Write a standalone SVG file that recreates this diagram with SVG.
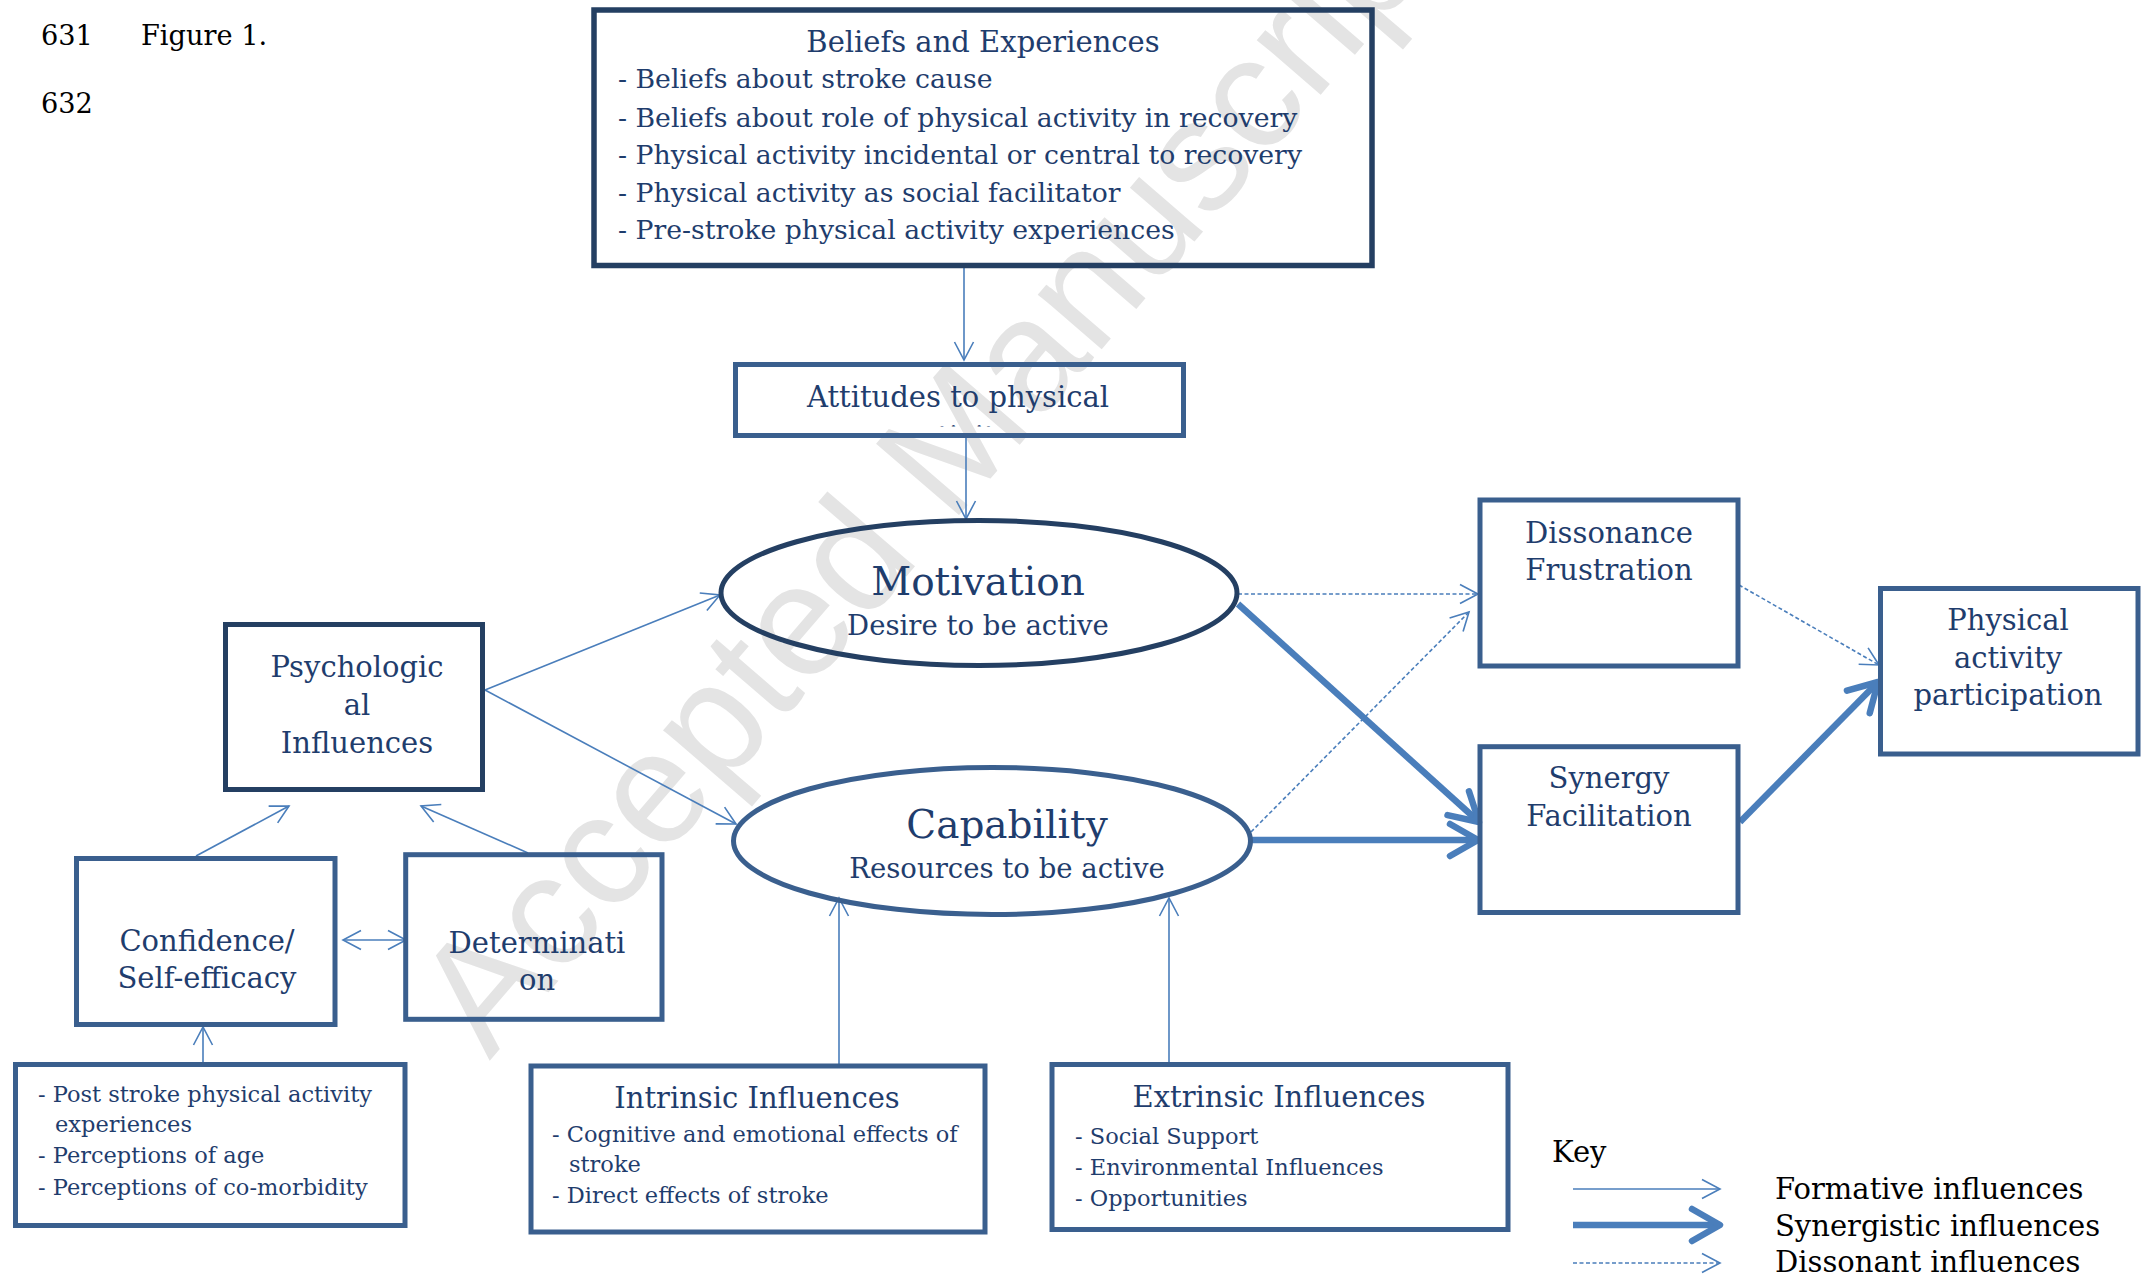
<svg xmlns="http://www.w3.org/2000/svg" width="2145" height="1279" viewBox="0 0 2145 1279">
<style>
  .bg { fill: #ffffff; }
  .wm { font-family: "Liberation Sans", Arial, sans-serif; font-size: 159px; fill: #e4e4e4; }
  .box { fill: none; stroke: #3a5f8e; stroke-width: 5; }
  .dark { stroke: #243f62; }
  .t { font-family: "DejaVu Serif", "Liberation Serif", serif; fill: #1f3d6d; }
  .h { font-size: 29px; text-anchor: middle; }
  .big { font-size: 39px; text-anchor: middle; }
  .sub { font-size: 27.5px; text-anchor: middle; }
  .bl { font-size: 26.7px; }
  .li { font-size: 22.5px; }
  .k { font-family: "DejaVu Serif", "Liberation Serif", serif; fill: #000000; font-size: 29px; }
  .thin { fill: none; stroke: #4a7ebb; stroke-width: 1.6; }
  .dash { fill: none; stroke: #4a7ebb; stroke-width: 1.6; stroke-dasharray: 4 2.5; }
  .thick { fill: none; stroke: #4a7ebb; stroke-width: 6.5; }
</style>
<defs>
  <marker id="mThin" markerUnits="userSpaceOnUse" markerWidth="1" markerHeight="1" refX="0" refY="0" orient="auto-start-reverse" overflow="visible">
    <path d="M-18,-9.5 L0,0 L-18,9.5" fill="none" stroke="#4a7ebb" stroke-width="1.6" stroke-linejoin="miter"/>
  </marker>
  <marker id="mThick" markerUnits="userSpaceOnUse" markerWidth="1" markerHeight="1" refX="0" refY="0" orient="auto" overflow="visible">
    <path d="M-28,-16 L0,0 L-28,16" fill="none" stroke="#4a7ebb" stroke-width="6.5" stroke-linecap="round" stroke-linejoin="round"/>
  </marker>
  <clipPath id="attClip">
    <rect x="738" y="367" width="443" height="59.5"/>
  </clipPath>
</defs>

<rect class="bg" x="0" y="0" width="2145" height="1279"/>

<!-- watermark -->
<text class="wm" transform="translate(905,515) rotate(-49.3)" x="-685" y="41">Accepted Manuscript</text>

<!-- page labels -->
<g id="page-labels">
  <text class="k" x="41" y="45" style="font-size:27.2px">631</text>
  <text class="k" x="141" y="45" style="font-size:27.2px">Figure 1.</text>
  <text class="k" x="41" y="113" style="font-size:27.2px">632</text>
</g>

<g id="connectors">
  <line class="thin" x1="964" y1="268" x2="964" y2="360" marker-end="url(#mThin)"/>
  <line class="thin" x1="966" y1="438" x2="966" y2="519" marker-end="url(#mThin)"/>
  <line class="thin" x1="485" y1="690" x2="720" y2="595" marker-end="url(#mThin)"/>
  <line class="thin" x1="485" y1="690" x2="736" y2="824" marker-end="url(#mThin)"/>
  <line class="thin" x1="196" y1="856" x2="289" y2="806" marker-end="url(#mThin)"/>
  <line class="thin" x1="528" y1="853" x2="421" y2="806" marker-end="url(#mThin)"/>
  <line class="thin" x1="343" y1="940" x2="406" y2="940" marker-start="url(#mThin)" marker-end="url(#mThin)"/>
  <line class="thin" x1="203" y1="1062" x2="203" y2="1027" marker-end="url(#mThin)"/>
  <line class="thin" x1="839" y1="1064" x2="839" y2="898" marker-end="url(#mThin)"/>
  <line class="thin" x1="1169" y1="1063" x2="1169" y2="898" marker-end="url(#mThin)"/>
  <line class="dash" x1="1238" y1="594" x2="1478" y2="594" marker-end="url(#mThin)"/>
  <line class="dash" x1="1251" y1="832" x2="1469" y2="612" marker-end="url(#mThin)"/>
  <line class="dash" x1="1739" y1="585" x2="1879" y2="665" marker-end="url(#mThin)"/>
  <line class="thick" x1="1238" y1="604" x2="1479" y2="822" marker-end="url(#mThick)"/>
  <line class="thick" x1="1252" y1="840" x2="1478" y2="840" marker-end="url(#mThick)"/>
  <line class="thick" x1="1740" y1="822" x2="1878" y2="682" marker-end="url(#mThick)"/>
</g>

<g id="beliefs">
  <rect class="box dark" x="594" y="10" width="778" height="255.5" style="stroke-width:5.5"/>
  <text class="t h" x="983" y="52">Beliefs and Experiences</text>
  <text class="t bl" x="618" y="88">- Beliefs about stroke cause</text>
  <text class="t bl" x="618" y="127">- Beliefs about role of physical activity in recovery</text>
  <text class="t bl" x="618" y="164">- Physical activity incidental or central to recovery</text>
  <text class="t bl" x="618" y="202">- Physical activity as social facilitator</text>
  <text class="t bl" x="618" y="239">- Pre-stroke physical activity experiences</text>
</g>

<g id="attitudes">
  <rect class="box" x="735.5" y="364.5" width="448" height="71"/>
  <text class="t h" x="958" y="407">Attitudes to physical</text>
  <text class="t h" x="958" y="447" clip-path="url(#attClip)">activity</text>
</g>

<g id="motivation">
  <ellipse cx="979" cy="593" rx="258" ry="72.5" fill="none" stroke="#243f62" stroke-width="5"/>
  <text class="t big" x="978" y="595">Motivation</text>
  <text class="t sub" x="978" y="635">Desire to be active</text>
</g>

<g id="capability">
  <ellipse cx="992" cy="841" rx="258.5" ry="73.5" fill="none" stroke="#3a5f8e" stroke-width="5"/>
  <text class="t big" x="1007" y="838">Capability</text>
  <text class="t sub" x="1007" y="878">Resources to be active</text>
</g>

<g id="psychological">
  <rect class="box dark" x="225.5" y="624.5" width="257" height="165"/>
  <text class="t h" x="357" y="677">Psychologic</text>
  <text class="t h" x="357" y="715">al</text>
  <text class="t h" x="357" y="753">Influences</text>
</g>

<g id="confidence">
  <rect class="box" x="76.5" y="858.5" width="258.5" height="166"/>
  <text class="t h" x="207" y="951">Confidence/</text>
  <text class="t h" x="207" y="988">Self-efficacy</text>
</g>

<g id="determination">
  <rect class="box" x="405.7" y="854.7" width="256.3" height="164.6"/>
  <text class="t h" x="537" y="953">Determinati</text>
  <text class="t h" x="537" y="990">on</text>
</g>

<g id="post-stroke">
  <rect class="box" x="15.5" y="1064.5" width="389.5" height="161"/>
  <text class="t li" x="38" y="1102">- Post stroke physical activity</text>
  <text class="t li" x="55" y="1132">experiences</text>
  <text class="t li" x="38" y="1163">- Perceptions of age</text>
  <text class="t li" x="38" y="1195">- Perceptions of co-morbidity</text>
</g>

<g id="intrinsic">
  <rect class="box" x="531" y="1066" width="454" height="166"/>
  <text class="t h" x="757" y="1108">Intrinsic Influences</text>
  <text class="t li" x="552" y="1142">- Cognitive and emotional effects of</text>
  <text class="t li" x="569" y="1172">stroke</text>
  <text class="t li" x="552" y="1203">- Direct effects of stroke</text>
</g>

<g id="extrinsic">
  <rect class="box" x="1052" y="1064.5" width="456" height="165"/>
  <text class="t h" x="1279" y="1107">Extrinsic Influences</text>
  <text class="t li" x="1075" y="1144">- Social Support</text>
  <text class="t li" x="1075" y="1175">- Environmental Influences</text>
  <text class="t li" x="1075" y="1206">- Opportunities</text>
</g>

<g id="dissonance">
  <rect class="box" x="1480" y="500" width="258" height="166"/>
  <text class="t h" x="1609" y="543">Dissonance</text>
  <text class="t h" x="1609" y="580">Frustration</text>
</g>

<g id="synergy">
  <rect class="box" x="1480" y="746.7" width="258" height="165.8"/>
  <text class="t h" x="1609" y="788">Synergy</text>
  <text class="t h" x="1609" y="826">Facilitation</text>
</g>

<g id="participation">
  <rect class="box" x="1880.5" y="588.5" width="257.5" height="165.5"/>
  <text class="t h" x="2008" y="630">Physical</text>
  <text class="t h" x="2008" y="668">activity</text>
  <text class="t h" x="2008" y="705">participation</text>
</g>

<g id="key">
  <text class="k" x="1552" y="1162">Key</text>
  <line class="thin" x1="1573" y1="1189" x2="1720" y2="1189" marker-end="url(#mThin)"/>
  <line class="thick" x1="1573" y1="1225" x2="1720" y2="1225" marker-end="url(#mThick)"/>
  <line class="dash" x1="1573" y1="1263" x2="1720" y2="1263" marker-end="url(#mThin)"/>
  <text class="k" x="1775" y="1199">Formative influences</text>
  <text class="k" x="1775" y="1236">Synergistic influences</text>
  <text class="k" x="1775" y="1272">Dissonant influences</text>
</g>
</svg>
